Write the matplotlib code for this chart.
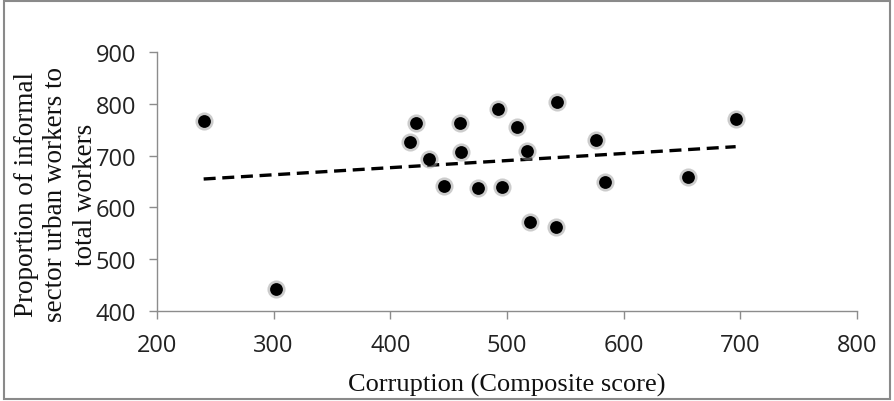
import matplotlib
matplotlib.use("Agg")
import matplotlib.pyplot as plt
import numpy as np
from matplotlib.patches import Rectangle

# corruption composite score vs informal sector share
corruption = [240, 302, 417, 422, 433, 446, 460, 461, 475, 492,
              496, 509, 517, 520, 542, 543, 576, 584, 655, 696]
informal = [767, 442, 727, 763, 693, 641, 763, 707, 637, 790,
            639, 755, 708, 572, 562, 803, 731, 650, 659, 771]
x_ticks = [200, 300, 400, 500, 600, 700, 800]
y_ticks = [400, 500, 600, 700, 800, 900]

SANS = ["Open Sans", "DejaVu Sans"]
SERIF = ["Liberation Serif", "DejaVu Serif"]
GRAY = "#8c8c8c"

fig = plt.figure(figsize=(8.94, 4.02), dpi=100)
ax = fig.add_axes([0.1756, 0.2239, 0.783, 0.6441])

# soft gray halo + black core
ax.scatter(corruption, informal, s=170, color="#9a9a9a", alpha=0.5, lw=0, zorder=3)
ax.scatter(corruption, informal, s=85, color="black", lw=0, zorder=4)

# linear trend line
slope, intercept = np.polyfit(corruption, informal, 1)
xs = np.array([min(corruption), max(corruption)])
ax.plot(xs, slope * xs + intercept, color="black", lw=2.4,
        linestyle=(0, (3.6, 2.0)), zorder=2)

ax.set_xlim(x_ticks[0], x_ticks[-1])
ax.set_ylim(y_ticks[0], y_ticks[-1])
ax.set_xticks(x_ticks)
ax.set_yticks(y_ticks)
for s in ["top", "right"]:
    ax.spines[s].set_visible(False)
for s in ["left", "bottom"]:
    ax.spines[s].set_color(GRAY)
    ax.spines[s].set_linewidth(1.0)
ax.tick_params(direction="out", length=6, width=1.0, color=GRAY, pad=9,
               labelsize=17, labelcolor="#222222")
ax.tick_params(axis="x", pad=10)
for lab in ax.get_xticklabels() + ax.get_yticklabels():
    lab.set_family(SANS)

ax.set_xlabel("Corruption (Composite score)", family=SERIF, fontsize=19,
              labelpad=11, color="#111111")
fig.text(0.0626, 0.515, "Proportion of informal\nsector urban workers to\ntotal workers",
         rotation=90, ha="center", va="center", multialignment="center",
         family=SERIF, fontsize=19.5, color="#111111", linespacing=1.25)

# outer chart frame
fig.patches.append(Rectangle((0.004, 0.006), 0.992, 0.988, transform=fig.transFigure,
                             fill=False, edgecolor="#8a8a8a", lw=1.5))

fig.savefig("out.png", dpi=100)
plt.close(fig)
